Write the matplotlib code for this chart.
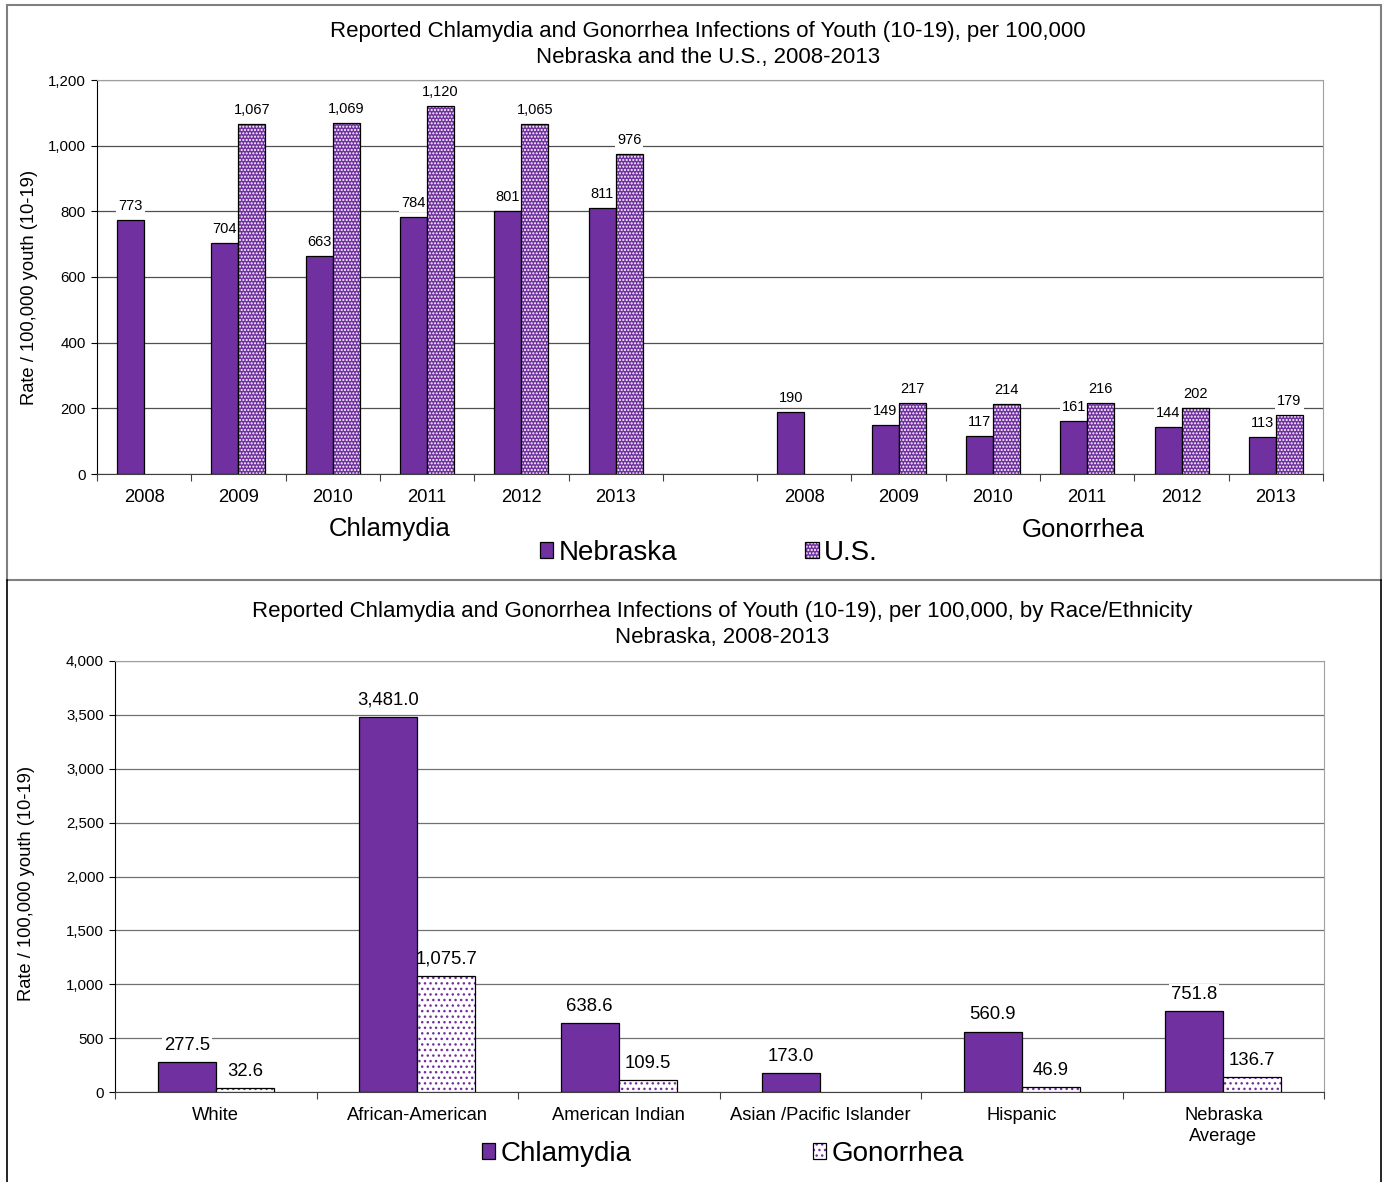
import matplotlib
matplotlib.use('Agg')
import matplotlib.pyplot as plt
from matplotlib.patches import Patch, Rectangle
from matplotlib.lines import Line2D
from matplotlib.legend_handler import HandlerTuple
import numpy as np

plt.rcParams['font.family'] = ['Liberation Sans', 'DejaVu Sans']
plt.rcParams['hatch.linewidth'] = 1.0

# data, top chart
years = ['2008', '2009', '2010', '2011', '2012', '2013']
chl_ne = [773, 704, 663, 784, 801, 811]
chl_us = [None, 1067, 1069, 1120, 1065, 976]
gon_ne = [190, 149, 117, 161, 144, 113]
gon_us = [None, 217, 214, 216, 202, 179]

# data, bottom chart
races = ['White', 'African-American', 'American Indian', 'Asian /Pacific Islander', 'Hispanic', 'Nebraska\nAverage']
race_chl = [277.5, 3481.0, 638.6, 173.0, 560.9, 751.8]
race_gon = [32.6, 1075.7, 109.5, None, 46.9, 136.7]

purple = '#7030A0'
W = 1389; H = 1182
fig = plt.figure(figsize=(W / 100, H / 100), dpi=100)

def fx(px):
    return px / W

def fy(py):
    return 1 - py / H

def draw_bars(ax, x, vals, w, face, hcolor=None, hatch=None):
    xs = [xi for xi, v in zip(x, vals) if v is not None]
    hs = [v for v in vals if v is not None]
    if hatch:
        ax.bar(xs, hs, w, color=face, edgecolor=hcolor, linewidth=0, hatch=hatch, zorder=3)
        ax.bar(xs, hs, w, fill=False, edgecolor='black', linewidth=0.9, zorder=4)
    else:
        ax.bar(xs, hs, w, color=face, edgecolor='black', linewidth=0.9, zorder=3)
    return xs, hs

def label_bars(ax, xs, hs, fmt, size, off):
    for xi, h in zip(xs, hs):
        ax.annotate(fmt.format(h), (xi, h), xytext=(0, off), textcoords='offset points',
                    ha='center', va='bottom', fontsize=size, zorder=2.5,
                    bbox=dict(fc='white', ec='none', pad=1.5))

# ---------------- top chart ----------------
ax1 = fig.add_axes([fx(97), fy(474), fx(1323) - fx(97), fy(80) - fy(474)])
cats = years + [''] + years
ne = chl_ne + [None] + gon_ne
us = chl_us + [None] + gon_us
x = np.arange(len(cats))
w = 0.286
xs, hs = draw_bars(ax1, x - w / 2, ne, w, purple)
label_bars(ax1, xs, hs, '{:,.0f}', 10.5, 5)
xs, hs = draw_bars(ax1, x + w / 2, us, w, purple, 'white', '.....')
label_bars(ax1, xs, hs, '{:,.0f}', 10.5, 5)

ax1.set_xlim(-0.5, len(cats) - 0.5)
ax1.set_ylim(0, 1200)
ax1.set_yticks(np.arange(0, 1201, 200))
ax1.set_yticklabels(['{:,}'.format(v) for v in range(0, 1201, 200)], fontsize=10.8)
ax1.set_xticks(np.arange(len(cats) + 1) - 0.5)
ax1.set_xticklabels([])
ax1.set_xticks(x, minor=True)
ax1.set_xticklabels(cats, minor=True, fontsize=13.2)
ax1.tick_params(axis='x', which='major', length=5, color='#404040')
ax1.tick_params(axis='x', which='minor', length=0, pad=10.5)
ax1.tick_params(axis='y', length=4, pad=4)
ax1.yaxis.grid(True, color='#505050', linewidth=0.9)
ax1.set_axisbelow(True)
ax1.spines['top'].set_color('#a0a0a0')
ax1.spines['right'].set_color('#a0a0a0')
ax1.spines['bottom'].set_color('#404040')

fig.text(fx(708), fy(31), 'Reported Chlamydia and Gonorrhea Infections of Youth (10-19), per 100,000',
         ha='center', va='center', fontsize=16)
fig.text(fx(708), fy(57), 'Nebraska and the U.S., 2008-2013', ha='center', va='center', fontsize=16)
fig.text(fx(30), fy(287), 'Rate / 100,000 youth (10-19)', rotation=90, ha='center', va='center', fontsize=13.2)
fig.text(fx(390), fy(529), 'Chlamydia', ha='center', va='center', fontsize=18.5)
fig.text(fx(1083), fy(530), 'Gonorrhea', ha='center', va='center', fontsize=18.5)

h_ne = Patch(facecolor=purple, edgecolor='black', linewidth=0.9)
h_us = (Patch(facecolor=purple, edgecolor='white', linewidth=0, hatch='.....'),
        Patch(fill=False, edgecolor='black', linewidth=0.9))
fig.legend([h_ne, h_us], ['Nebraska', 'U.S.'], loc='center', bbox_to_anchor=(fx(709), fy(553)),
           ncol=2, frameon=False, fontsize=20, handlelength=0.48, handleheight=0.48,
           handletextpad=0.2, columnspacing=4.6, handler_map={tuple: HandlerTuple(ndivide=1)})

# ---------------- bottom chart ----------------
ax2 = fig.add_axes([fx(115), fy(1092), fx(1324) - fx(115), fy(661) - fy(1092)])
x2 = np.arange(len(races))
w2 = 0.288
xs, hs = draw_bars(ax2, x2 - w2 / 2, race_chl, w2, purple)
label_bars(ax2, xs, hs, '{:,.1f}', 13.3, 6)
xs, hs = draw_bars(ax2, x2 + w2 / 2, race_gon, w2, 'white', purple, '...')
label_bars(ax2, xs, hs, '{:,.1f}', 13.3, 6)

ax2.set_xlim(-0.5, len(races) - 0.5)
ax2.set_ylim(0, 4000)
ax2.set_yticks(np.arange(0, 4001, 500))
ax2.set_yticklabels(['{:,}'.format(v) for v in range(0, 4001, 500)], fontsize=10.8)
ax2.set_xticks(np.arange(len(races) + 1) - 0.5)
ax2.set_xticklabels([])
ax2.set_xticks(x2, minor=True)
ax2.set_xticklabels(races, minor=True, fontsize=13.2, linespacing=1.35)
ax2.tick_params(axis='x', which='major', length=5, color='#404040')
ax2.tick_params(axis='x', which='minor', length=0, pad=10.5)
ax2.tick_params(axis='y', length=4, pad=4)
ax2.yaxis.grid(True, color='#707070', linewidth=0.9)
ax2.set_axisbelow(True)
ax2.spines['top'].set_color('#a0a0a0')
ax2.spines['right'].set_color('#a0a0a0')
ax2.spines['bottom'].set_color('#404040')

fig.text(fx(722), fy(612), 'Reported Chlamydia and Gonorrhea Infections of Youth (10-19), per 100,000, by Race/Ethnicity',
         ha='center', va='center', fontsize=16)
fig.text(fx(722), fy(638), 'Nebraska, 2008-2013', ha='center', va='center', fontsize=16)
fig.text(fx(27), fy(883), 'Rate / 100,000 youth (10-19)', rotation=90, ha='center', va='center', fontsize=13.2)

h_chl = Patch(facecolor=purple, edgecolor='black', linewidth=0.9)
h_gon = (Patch(facecolor='white', edgecolor=purple, linewidth=0, hatch='...'),
         Patch(fill=False, edgecolor='black', linewidth=0.9))
fig.legend([h_chl, h_gon], ['Chlamydia', 'Gonorrhea'], loc='center', bbox_to_anchor=(fx(723), fy(1154)),
           ncol=2, frameon=False, fontsize=20, handlelength=0.48, handleheight=0.48,
           handletextpad=0.2, columnspacing=6.5, handler_map={tuple: HandlerTuple(ndivide=1)})

# panel borders
fig.add_artist(Rectangle((fx(7), fy(580)), fx(1381) - fx(7), fy(5) - fy(580), fill=False,
                         edgecolor='#808080', linewidth=1.5, transform=fig.transFigure))
fig.add_artist(Line2D([fx(7), fx(7)], [fy(580), 0], color='black', linewidth=1.2, transform=fig.transFigure))
fig.add_artist(Line2D([fx(1381), fx(1381)], [fy(580), 0], color='black', linewidth=1.2, transform=fig.transFigure))

fig.savefig('out.png', dpi=100)
